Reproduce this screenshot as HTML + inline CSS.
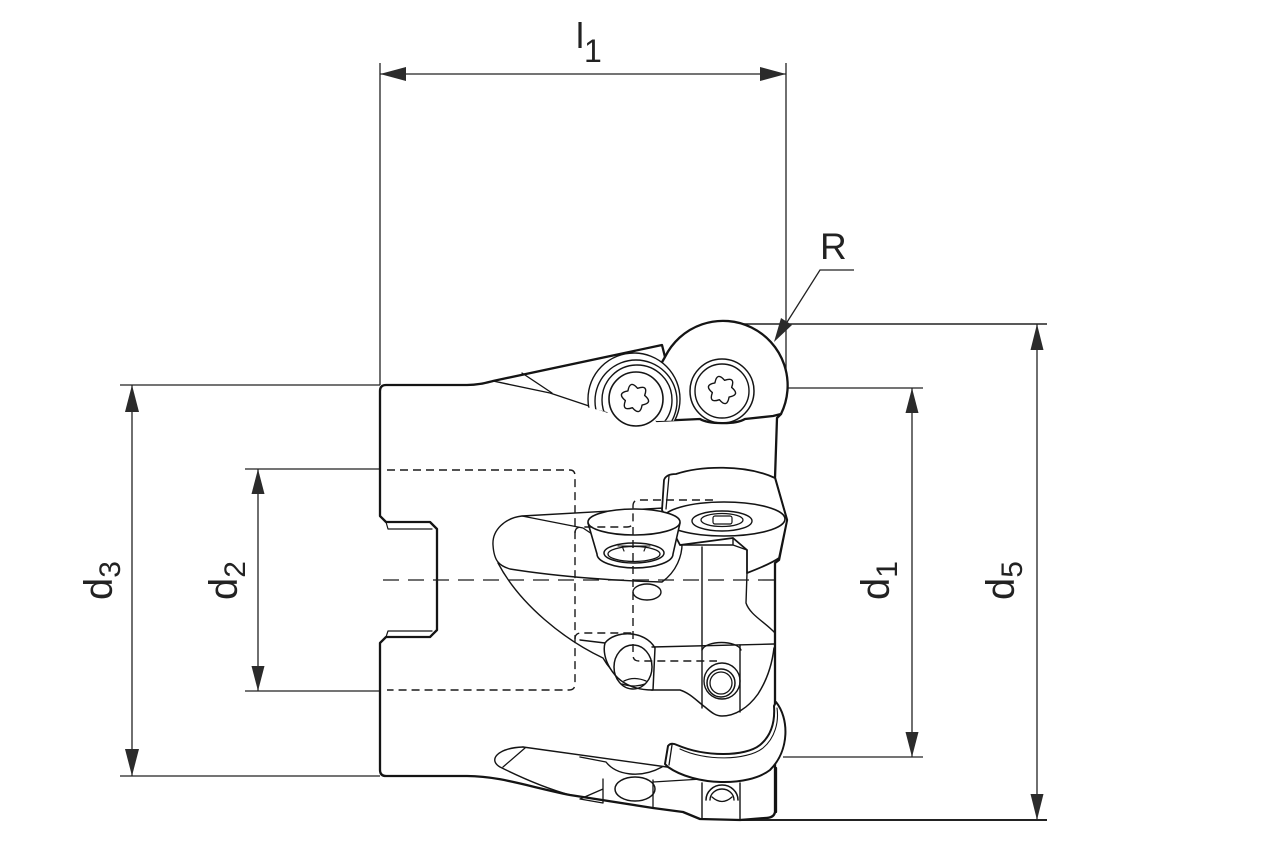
<!DOCTYPE html>
<html>
<head>
<meta charset="utf-8">
<style>
html,body{margin:0;padding:0;background:#fff;}
svg{display:block;}
text{font-family:"Liberation Sans",Arial,sans-serif;fill:#222;}
</style>
</head>
<body>
<svg width="1280" height="853" viewBox="0 0 1280 853" xmlns="http://www.w3.org/2000/svg">
<defs>
  <clipPath id="clusterClip">
    <path d="M540,300 L820,300 L820,418 L657,421 L607,412 L540,396 Z"/>
  </clipPath>
  <path id="torx" d="M8.66,-5 Q19.3,0 8.66,5 Q9.65,16.71 0,10 Q-9.65,16.71 -8.66,5 Q-19.3,0 -8.66,-5 Q-9.65,-16.71 0,-10 Q9.65,-16.71 8.66,-5 Z"/>
</defs>

<!-- ============ DIMENSIONS ============ -->
<g stroke="#222" stroke-width="1.3" fill="none">
  <line x1="380" y1="63" x2="380" y2="385"/>
  <line x1="786" y1="63" x2="786" y2="388"/>
  <line x1="380" y1="74" x2="786" y2="74"/>
  <polyline points="854,270 820,270 777,338"/>
  <line x1="722" y1="324" x2="1047" y2="324" stroke-width="1.6"/>
  <line x1="740" y1="820" x2="1047" y2="820" stroke-width="2"/>
  <line x1="1037" y1="324" x2="1037" y2="820"/>
  <line x1="786" y1="388" x2="923" y2="388"/>
  <line x1="783" y1="757" x2="923" y2="757"/>
  <line x1="912" y1="388" x2="912" y2="757"/>
  <line x1="120" y1="385" x2="380" y2="385"/>
  <line x1="120" y1="776" x2="380" y2="776"/>
  <line x1="132" y1="385" x2="132" y2="776"/>
  <line x1="245" y1="469" x2="380" y2="469"/>
  <line x1="245" y1="691" x2="380" y2="691"/>
  <line x1="258" y1="469" x2="258" y2="691"/>
</g>
<g fill="#2b2b2b" stroke="none">
  <polygon points="380,74 406,67 406,81"/>
  <polygon points="786,74 760,67 760,81"/>
  <polygon points="774,342 792,325 781,318"/>
  <polygon points="1037,324 1030.5,350 1043.5,350"/>
  <polygon points="1037,820 1030.5,794 1043.5,794"/>
  <polygon points="912,388 905.5,413 918.5,413"/>
  <polygon points="912,757 905.5,732 918.5,732"/>
  <polygon points="132,385 125,412 139,412"/>
  <polygon points="132,776 125,749 139,749"/>
  <polygon points="258,469 251.5,494 264.5,494"/>
  <polygon points="258,691 251.5,666 264.5,666"/>
</g>

<text x="576" y="48" font-size="36">l<tspan font-size="32" dy="14">1</tspan></text>
<text x="820" y="259" font-size="37">R</text>
<text transform="translate(112,600) rotate(-90)" font-size="40">d<tspan font-size="30" dy="8">3</tspan></text>
<text transform="translate(237,600) rotate(-90)" font-size="40">d<tspan font-size="30" dy="8">2</tspan></text>
<text transform="translate(889,600) rotate(-90)" font-size="40">d<tspan font-size="30" dy="8">1</tspan></text>
<text transform="translate(1014,600) rotate(-90)" font-size="40">d<tspan font-size="30" dy="8">5</tspan></text>

<!-- ============ BODY ============ -->
<g stroke="#141414" fill="none" stroke-linejoin="round" stroke-linecap="round">
  <path stroke-width="2.3" fill="#fff" d="M386,385 L467,385 C478,385 485,383 493,381 L662,345 L665,357
     L781,414 L777,418 L775,478 L787,520 L779,560 L775,563 L775,812 Q774,818 765,818 L740,820 L700,819 L683,812 L653,808 L570,795
     C530,787 500,776 467,776 L386,776 Q380,776 380,770 L380,643 L386,637 L430,637 L437,630 L437,529 L430,522 L386,522 L380,516 L380,391 Q380,385 386,385 Z"/>
  <path stroke-width="1.2" d="M386,522 L388,529 L432,529 M386,637 L388,631 L432,631"/>

  <path stroke-width="2.3" fill="#fff" d="M665,357 A60,60 0 1 1 781,414 L773,416 L745,419 C735,425 708,424 700,419 L657,421 L640,400 Z"/>
  <path stroke-width="1.4" d="M493,381 L550,393 L607,412"/>
  <path stroke-width="1.3" d="M522,373 L552,393"/>

  <g clip-path="url(#clusterClip)" stroke-width="1.4">
    <circle cx="634" cy="399" r="46" fill="#fff"/>
    <circle cx="636" cy="401" r="41"/>
    <circle cx="637" cy="400" r="35"/>
  </g>
  <circle cx="636" cy="399" r="27" stroke-width="1.6" fill="#fff"/>
  <use href="#torx" transform="translate(635,398) rotate(15)" stroke-width="1.4"/>

  <circle cx="722" cy="391" r="32" stroke-width="1.5"/>
  <circle cx="722" cy="391" r="27" stroke-width="1.4"/>
  <use href="#torx" transform="translate(722,390) rotate(15)" stroke-width="1.4"/>

  <path stroke-width="1.4" fill="#fff" d="M522,516 L664,508 L682,540 C683,556 676,572 662,582 C620,581 560,577 510,569 C500,566 494,562 493,545 C492,530 505,518 522,516 Z"/>
  <path stroke-width="1.3" d="M522,516 L583,528 L592,534"/>
  <path stroke-width="1.4" d="M498,563 C520,605 565,640 603,658 C612,674 628,688 652,690"/>

  <path stroke-width="1.8" fill="#fff" d="M664,480 Q666,474 676,474 C700,466 745,464 775,478 L787,520 L779,558 C772,563 760,568 747,573 L747,550 L733,538 L680,545 L662,510 Z"/>
  <path stroke-width="1.3" d="M669,476 L666,509"/>
  <ellipse cx="724" cy="519" rx="61" ry="17" stroke-width="1.6" fill="#fff"/>
  <ellipse cx="722" cy="521" rx="30" ry="10" stroke-width="1.4"/>
  <ellipse cx="722" cy="520" rx="21" ry="6.5" stroke-width="1.3"/>
  <rect x="713" y="516" width="19" height="8" rx="2" stroke-width="1.2"/>
  <path stroke-width="1.4" d="M680,545 L733,545 L733,538 M733,545 L747,550"/>
  <path stroke-width="1.4" d="M702,547 L702,708"/>
  <path stroke-width="1.4" d="M747,573 L746,603 C750,615 765,622 775,633"/>

  <path stroke-width="1.6" fill="#fff" d="M588,523 L597,554 A38,14 0 0 0 673,554 L680,523 Z"/>
  <ellipse cx="634" cy="522" rx="46" ry="13" stroke-width="1.6" fill="#fff"/>
  <ellipse cx="634" cy="553" rx="30" ry="10" stroke-width="1.5"/>
  <ellipse cx="634" cy="554" rx="26" ry="7.5" stroke-width="1.3"/>
  <path stroke-width="1.1" d="M618,546 L650,546 M622,546 L624,551 M646,546 L644,551"/>
  <ellipse cx="647" cy="592" rx="14" ry="8" stroke-width="1.4" fill="#fff"/>

  <path stroke-width="1.4" d="M580,640 L605,643"/>
  <path stroke-width="1.5" fill="#fff" d="M605,643 C615,630 645,630 655,648 L653,690 C630,690 617,680 610,668 C605,660 603,650 605,643 Z"/>
  <ellipse cx="633" cy="667" rx="19" ry="22" stroke-width="1.5"/>
  <path stroke-width="1.3" d="M624,681 Q634,676 646,681 M622,684 Q634,688 645,684"/>
  <path stroke-width="1.4" d="M652,647 L774,644"/>
  <path stroke-width="1.5" d="M652,690 L680,690 C690,693 698,702 705,707 C712,713 716,716 722,716 C735,716 748,708 758,694 C767,680 772,665 774,648"/>
  <path stroke-width="1.4" d="M740,645 L740,712"/>
  <path stroke-width="1.4" d="M702,650 C706,640 737,640 741,650"/>
  <circle cx="722" cy="681" r="18" stroke-width="1.4"/>
  <circle cx="721" cy="683" r="14" stroke-width="1.5"/>
  <circle cx="721" cy="683" r="11" stroke-width="1.3"/>

  <path stroke-width="1.4" d="M523,747 L667,767"/>
  <path stroke-width="1.4" d="M523,747 C497,748 488,760 500,767 C520,777 545,788 570,795"/>
  <path stroke-width="1.3" d="M503,767 L525,748"/>
  <path stroke-width="1.4" d="M580,757 L606,762 C616,775 640,779 662,767"/>
  <ellipse cx="635" cy="789" rx="20" ry="12" stroke-width="1.5"/>
  <path stroke-width="1.3" d="M603,779 L603,803 M653,780 L653,808 M580,799 L603,789 M580,799 L603,803 M653,782 L702,779"/>
  <path stroke-width="1.4" d="M702,783 L702,819 M740,783 L740,819"/>
  <path stroke-width="1.5" d="M706,800 A16,15 0 0 1 738,800"/>
  <path stroke-width="1.4" d="M710,800 A12,11 0 0 1 734,800"/>
  <path stroke-width="1.3" d="M712,797 Q722,806 732,797"/>

  <path stroke-width="2" fill="#fff" d="M677,745 C705,757 745,757 760,745 C772,735 775,720 774,706 L776,702 C789,718 790,750 770,770 C748,787 695,786 668,767 L665,764 L668,746 Q671,742 677,745 Z"/>
  <path stroke-width="1.1" d="M680,749 C705,761 746,761 763,748 C775,738 779,722 777,708"/>
  <path stroke-width="1.3" d="M672,745 L669,765"/>
  <path stroke-width="2.3" d="M776,768 L776,812"/>
</g>

<g stroke="#1a1a1a" fill="none" stroke-width="1.4" stroke-dasharray="8,5">
  <path d="M387,470 L570,470 Q575,470 575,476 L575,684 Q575,690 569,690 L387,690"/>
  <path d="M575,533 Q575,527 581,527 L627,527 Q633,527 633,521 L633,506 Q633,500 639,500 L717,500"/>
  <path d="M633,527 L633,655 Q633,661 639,661 L717,661"/>
  <path d="M575,639 Q575,633 581,633 L633,633"/>
</g>
<line x1="383" y1="580" x2="780" y2="580" stroke="#1a1a1a" stroke-width="1.3" stroke-dasharray="16,9"/>
</svg>
</body>
</html>
